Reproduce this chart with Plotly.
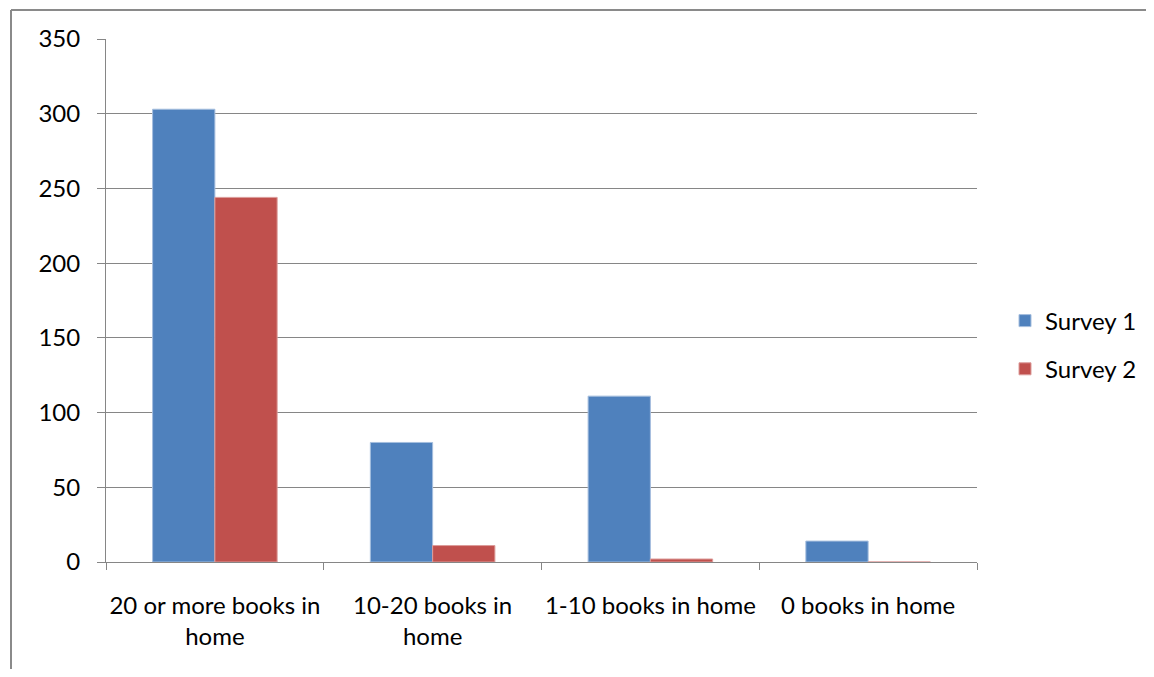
import plotly.graph_objects as go

categories = ["20 or more books in<br>home", "10-20 books in<br>home", "1-10 books in home", "0 books in home"]
survey1 = [303, 80, 111, 14]
survey2 = [244, 11, 2, 0]
series_names = ["Survey 1", "Survey 2"]
y_ticks = [0, 50, 100, 150, 200, 250, 300, 350]

# page body has an 8px margin; work in figure coordinates (screen - 8)
OFF = 8
W, H = 1154 - 2 * OFF, 677 - 2 * OFF
L, R, T, B = 106 - OFF, 977 - OFF, 39 - OFF, 562 - OFF

FONT = dict(family="Lato, Carlito, 'Liberation Sans', sans-serif", size=24, color="#000000")
GRID = "#868686"

fig = go.Figure()
fig.add_trace(go.Bar(x=categories, y=survey1, name=series_names[0],
                     marker=dict(color="#4F81BD", line=dict(color="#A5BEDE", width=1)),
                     legendgroup="a"))
fig.add_trace(go.Bar(x=categories, y=survey2, name=series_names[1],
                     marker=dict(color="#C0504D", line=dict(color="#DC9C9A", width=1)),
                     legendgroup="b"))

pw = R - L
ph = B - T
def px(x):
    return (x - L) / pw
def py(y):
    return (B - y) / ph

fig.add_shape(type="line", xref="paper", yref="paper", x0=px(11 - OFF), x1=px(W + 20), y0=py(10 - OFF), y1=py(10 - OFF),
              line=dict(color="#8A8A8A", width=2))
fig.add_shape(type="line", xref="paper", yref="paper", x0=px(11 - OFF), x1=px(11 - OFF), y0=py(10 - OFF), y1=py(H + 20),
              line=dict(color="#8A8A8A", width=2))

fig.update_layout(
    width=W, height=H,
    margin=dict(l=L, r=W - R, t=T, b=H - B, pad=0, autoexpand=False),
    paper_bgcolor="white", plot_bgcolor="white",
    font=FONT,
    barmode="group", bargap=0.428, bargroupgap=0,
    showlegend=True,
    legend=dict(x=px(997), y=py(337), xanchor="left", yanchor="middle",
                font=dict(family=FONT["family"], size=24, color="#000000"),
                tracegroupgap=14, itemwidth=30,
                bgcolor="rgba(0,0,0,0)"),
    xaxis=dict(type="category", showgrid=False, showline=True, linecolor=GRID, linewidth=1,
               ticks="outside", tickson="boundaries", ticklen=7, tickcolor=GRID, tickwidth=1,
               tickfont=FONT, automargin=False, tickangle=0, ticklabelstandoff=22),
    yaxis=dict(range=[0, 350], tickvals=y_ticks, showgrid=True, gridcolor=GRID, gridwidth=1,
               showline=True, linecolor=GRID, linewidth=1, ticks="outside", ticklen=8,
               tickcolor=GRID, tickwidth=1, tickfont=FONT, zeroline=False, automargin=False,
               ticklabelstandoff=12),
)

fig.write_html("out.html")
